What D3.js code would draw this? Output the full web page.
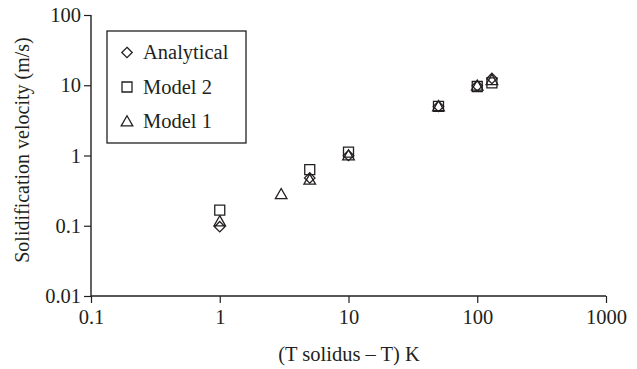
<!DOCTYPE html>
<html>
<head>
<meta charset="utf-8">
<script src="https://cdn.jsdelivr.net/npm/d3@7"></script>
<style>
  body { margin: 0; background: #fff; }
  text { font-family: "Liberation Serif", "DejaVu Serif", serif; fill: #231f20; }
</style>
</head>
<body>
<script>
// data
var analyticalX = [1, 5, 10, 50, 100, 130],
    analyticalY = [0.097, 0.48, 1.0, 5.0, 9.8, 12.5];
var model2X = [1, 5, 10, 50, 100, 130],
    model2Y = [0.167, 0.63, 1.12, 5.0, 9.6, 10.8];
var model1X = [1, 3, 5, 10, 50, 100, 130],
    model1Y = [0.115, 0.28, 0.45, 1.0, 5.0, 9.8, 11.8];
var xTicks = [0.1, 1, 10, 100, 1000],
    yTicks = [0.01, 0.1, 1, 10, 100];

var width = 637,
    height = 369;

var svg = d3.select("body").append("svg")
    .attr("width", width)
    .attr("height", height);

var x = d3.scaleLog().domain([0.1, 1000]).range([91, 606]);
var y = d3.scaleLog().domain([0.01, 100]).range([296, 15]);

var ink = "#231f20";

// axes
var xAxis = d3.axisBottom(x).tickValues(xTicks).tickSize(7).tickPadding(6)
  .tickFormat(function(d){ return String(d); });
var yAxis = d3.axisLeft(y).tickValues(yTicks).tickSize(7).tickPadding(3)
  .tickFormat(function(d){ return String(d); });

var gx = svg.append("g").attr("transform", "translate(0,296)").call(xAxis);
var gy = svg.append("g").attr("transform", "translate(91,0)").call(yAxis);

[gx, gy].forEach(function(g){
  g.select(".domain").attr("stroke", ink).attr("stroke-width", 1.4);
  g.selectAll(".tick line").attr("stroke", ink).attr("stroke-width", 1.2);
  g.selectAll(".tick text")
    .style("font-family", "Liberation Serif, serif")
    .style("font-size", "20.5px")
    .attr("fill", ink);
});
gx.select(".domain").attr("d", "M91,0H606");
gy.select(".domain").attr("d", "M0,15V296");

// axis titles
svg.append("text")
  .attr("x", 349).attr("y", 361)
  .attr("text-anchor", "middle")
  .style("font-size", "20.5px")
  .text("(T solidus \u2013 T) K");

svg.append("text")
  .attr("transform", "translate(29,150) rotate(-90)")
  .attr("text-anchor", "middle")
  .style("font-size", "20px")
  .text("Solidification velocity (m/s)");

// marker shapes
function diamond(cx, cy){ var r = 5.2; return "M" + cx + "," + (cy - r) + "L" + (cx + r) + "," + cy + "L" + cx + "," + (cy + r) + "L" + (cx - r) + "," + cy + "Z"; }
function square(cx, cy){ var r = 5; return "M" + (cx - r) + "," + (cy - r) + "h" + (2 * r) + "v" + (2 * r) + "h" + (-2 * r) + "Z"; }
function triangle(cx, cy){ var r = 5.8; return "M" + cx + "," + (cy - r) + "L" + (cx + r) + "," + (cy + r * 0.75) + "L" + (cx - r) + "," + (cy + r * 0.75) + "Z"; }

function plot(xs, ys, shape){
  svg.append("g").selectAll("path")
    .data(xs)
    .enter().append("path")
    .attr("d", function(d, i){ return shape(x(d), y(ys[i])); })
    .attr("fill", "none")
    .attr("stroke", ink)
    .attr("stroke-width", 1.3);
}

plot(model2X, model2Y, square);
plot(model1X, model1Y, triangle);
plot(analyticalX, analyticalY, diamond);

// legend
var legend = svg.append("g");
legend.append("rect")
  .attr("x", 107).attr("y", 31).attr("width", 139).attr("height", 112)
  .attr("fill", "#fff").attr("stroke", ink).attr("stroke-width", 1.3);

var items = [["Analytical", diamond], ["Model 2", square], ["Model 1", triangle]];
items.forEach(function(it, i){
  var cy = 52.5 + i * 34.5;
  legend.append("path").attr("d", it[1](127, cy))
    .attr("fill", "none").attr("stroke", ink).attr("stroke-width", 1.3);
  legend.append("text").attr("x", 143).attr("y", cy + 6.5)
    .style("font-size", "20.5px").text(it[0]);
});
</script>
</body>
</html>
